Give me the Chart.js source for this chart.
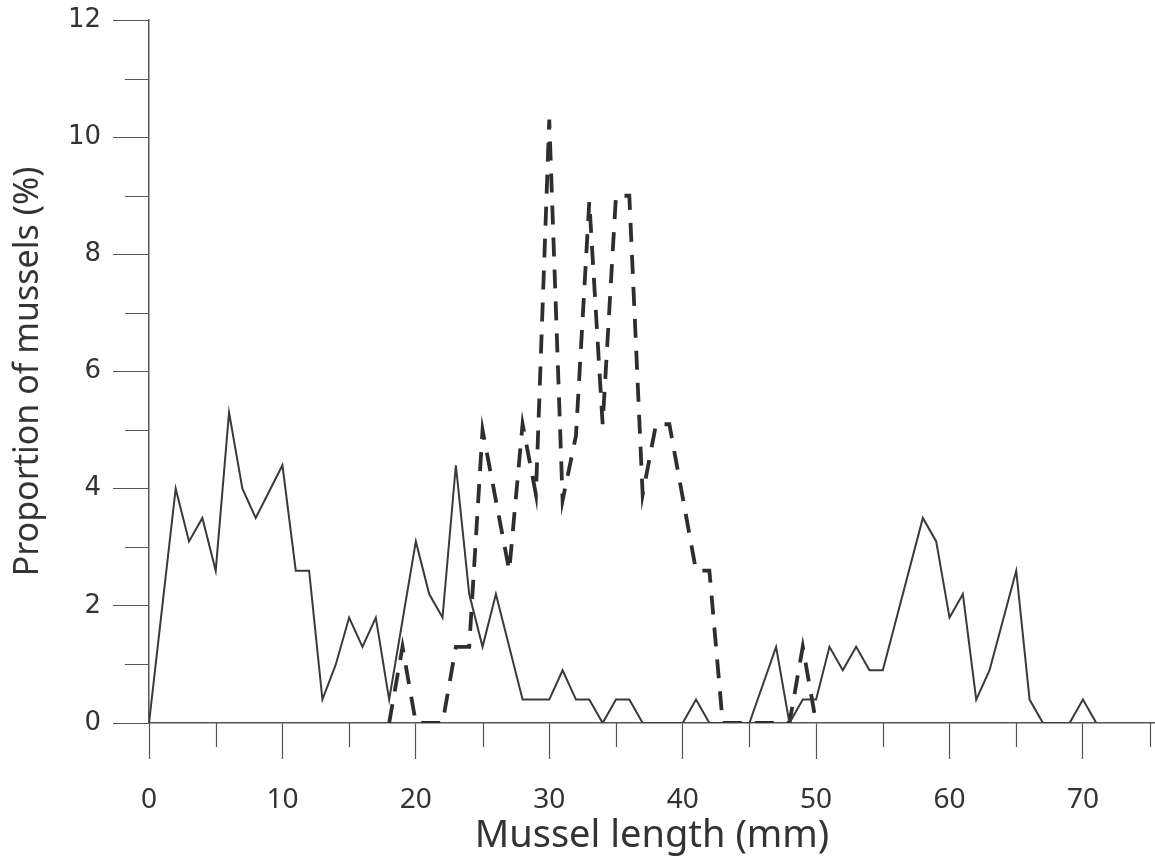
<!DOCTYPE html>
<html>
<head>
<meta charset="utf-8">
<script src="https://cdn.jsdelivr.net/npm/chart.js@4"></script>
<style>
  html, body { margin: 0; padding: 0; background: #fff; }
  #wrap { width: 1155px; height: 859px; }
</style>
</head>
<body>
<div id="wrap"><canvas id="mussels"></canvas></div>
<script>
// mussel length (mm) and proportion (%)
const solidX = [0, 2, 3, 4, 5, 6, 7, 8, 10, 11, 12, 13, 14, 15, 16, 17, 18, 20, 21, 22, 23, 24, 25, 26, 28, 29, 30, 31, 32, 33, 34, 35, 36, 37, 40, 41, 42, 45, 47, 48, 49, 50, 51, 52, 53, 54, 55, 58, 59, 60, 61, 62, 63, 65, 66, 67, 69, 70, 71];
const solidY = [0, 4.0, 3.1, 3.5, 2.6, 5.3, 4.0, 3.5, 4.4, 2.6, 2.6, 0.4, 1.0, 1.8, 1.3, 1.8, 0.4, 3.1, 2.2, 1.8, 4.4, 2.2, 1.3, 2.2, 0.4, 0.4, 0.4, 0.9, 0.4, 0.4, 0, 0.4, 0.4, 0, 0, 0.4, 0, 0, 1.3, 0, 0.4, 0.4, 1.3, 0.9, 1.3, 0.9, 0.9, 3.5, 3.1, 1.8, 2.2, 0.4, 0.9, 2.6, 0.4, 0, 0, 0.4, 0];

const dashX = [18, 19, 20, 22, 23, 24, 25, 27, 28, 29, 30, 31, 32, 33, 34, 35, 36, 37, 38, 39, 41, 42, 43, 48, 49, 50];
const dashY = [0, 1.3, 0, 0, 1.3, 1.3, 5.0, 2.6, 5.1, 3.9, 10.3, 3.8, 4.9, 8.9, 5.1, 9.0, 9.0, 3.9, 5.1, 5.1, 2.6, 2.6, 0, 0, 1.3, 0];

const xTickValues = [0, 5, 10, 15, 20, 25, 30, 35, 40, 45, 50, 55, 60, 65, 70, 75];
const xLabelValues = [0, 10, 20, 30, 40, 50, 60, 70];
const yTickValues = [0, 1, 2, 3, 4, 5, 6, 7, 8, 9, 10, 11, 12];
const yLabelValues = [0, 2, 4, 6, 8, 10, 12];

const toPoints = (xs, ys) => xs.map((x, i) => ({ x: x, y: ys[i] }));

const axisColor = "#555";
const inkColor = "#3a3a3a";

// short ticks for the unlabelled values (odd y, every 5 on x)
const minorTicks = {
  id: "minorTicks",
  afterDraw(chart) {
    const ctx = chart.ctx;
    const xs = chart.scales.x;
    const ys = chart.scales.y;
    ctx.save();
    ctx.strokeStyle = axisColor;
    ctx.lineWidth = 1.2;
    ctx.beginPath();
    xTickValues.forEach((v) => {
      if (xLabelValues.includes(v)) return;
      const px = Math.round(xs.getPixelForValue(v)) + 0.5;
      ctx.moveTo(px, ys.bottom);
      ctx.lineTo(px, ys.bottom + 24);
    });
    yTickValues.forEach((v) => {
      if (yLabelValues.includes(v)) return;
      const py = Math.round(ys.getPixelForValue(v)) + 0.5;
      ctx.moveTo(xs.left, py);
      ctx.lineTo(xs.left - 24, py);
    });
    ctx.stroke();
    ctx.restore();
  },
};

new Chart(document.getElementById("mussels"), {
  type: "line",
  data: {
    datasets: [
      {
        label: "solid",
        data: toPoints(solidX, solidY),
        borderColor: inkColor,
        borderWidth: 2,
        pointRadius: 0,
        tension: 0,
      },
      {
        label: "dashed",
        data: toPoints(dashX, dashY),
        borderColor: "#2e2e2e",
        borderWidth: 3.8,
        borderDash: [19, 13],
        pointRadius: 0,
        tension: 0,
      },
    ],
  },
  plugins: [minorTicks],
  options: {
    responsive: true,
    maintainAspectRatio: false,
    animation: false,
    layout: { padding: { top: 20, right: 0, left: 0, bottom: 0 } },
    plugins: {
      legend: { display: false },
      tooltip: { enabled: false },
    },
    scales: {
      x: {
        type: "linear",
        min: 0,
        max: 75.4,
        afterBuildTicks: (scale) => {
          scale.ticks = xTickValues.map((v) => ({ value: v }));
        },
        afterFit: (scale) => {
          scale.height = 136;
          scale.paddingLeft = 0;
          scale.paddingRight = 0;
        },
        border: { display: true, color: axisColor, width: 1.5 },
        grid: {
          drawOnChartArea: false,
          drawTicks: true,
          tickLength: 36,
          tickWidth: 1.2,
          color: (c) => (c.tick && xLabelValues.includes(c.tick.value) ? axisColor : "rgba(0,0,0,0)"),
        },
        ticks: {
          padding: 24,
          maxRotation: 0,
          autoSkip: false,
          color: "#333",
          font: { family: "'Noto Sans', sans-serif", size: 28 },
          callback: (v) => (xLabelValues.includes(v) ? String(v) : ""),
        },
        title: {
          display: true,
          text: "Mussel length (mm)",
          color: "#333",
          font: { family: "'Noto Sans', sans-serif", size: 38 },
          padding: { top: 0, bottom: 0 },
        },
      },
      y: {
        type: "linear",
        min: 0,
        max: 12,
        afterBuildTicks: (scale) => {
          scale.ticks = yTickValues.map((v) => ({ value: v }));
        },
        afterFit: (scale) => {
          scale.width = 149;
          scale.paddingTop = 0;
          scale.paddingBottom = 0;
        },
        border: { display: true, color: axisColor, width: 1.5 },
        grid: {
          drawOnChartArea: false,
          drawTicks: true,
          tickLength: 36,
          tickWidth: 1.2,
          color: (c) => (c.tick && yLabelValues.includes(c.tick.value) ? axisColor : "rgba(0,0,0,0)"),
        },
        ticks: {
          padding: 12,
          color: "#333",
          font: { family: "'DejaVu Sans', sans-serif", size: 26 },
          callback: (v) => (yLabelValues.includes(v) ? String(v) : ""),
        },
        title: {
          display: true,
          text: "Proportion of mussels (%)",
          color: "#333",
          font: { family: "'Noto Sans', sans-serif", size: 34 },
          padding: { top: 8, bottom: 0 },
        },
      },
    },
  },
});
</script>
</body>
</html>
